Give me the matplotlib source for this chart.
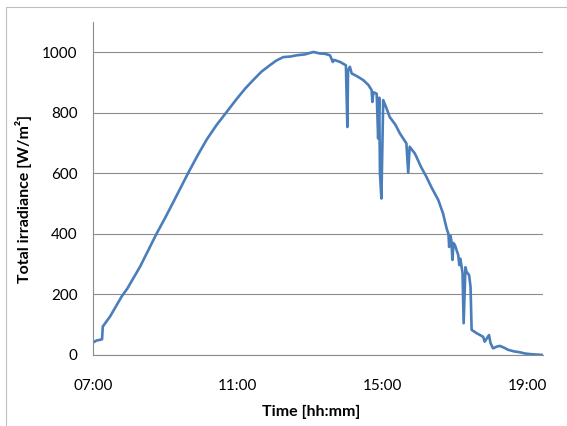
import numpy as np
import matplotlib.pyplot as plt
from matplotlib.patches import Rectangle

plt.rcParams['font.family'] = ['Lato', 'DejaVu Sans']

# Time in decimal hours, irradiance in W/m2
hours = [7.00, 7.10, 7.19, 7.25, 7.27, 7.47, 7.79, 7.95, 8.30, 8.76, 9.00,
         9.22, 9.63, 9.90, 10.14, 10.40, 10.69, 10.96, 11.20, 11.42, 11.65,
         11.88, 12.05, 12.25, 12.45, 12.62, 12.85, 13.08, 13.26, 13.40, 13.54,
         13.62, 13.65, 13.82, 13.98, 14.02, 14.04, 14.09, 14.14, 14.30, 14.46,
         14.60, 14.69, 14.71, 14.74, 14.83, 14.87, 14.90, 14.92, 14.96, 15.01,
         15.10, 15.19, 15.35, 15.47, 15.65, 15.70, 15.74, 15.88, 15.93, 16.05,
         16.20, 16.35, 16.53, 16.66, 16.76, 16.81, 16.83, 16.86, 16.89, 16.92,
         16.95, 16.99, 17.08, 17.11, 17.14, 17.20, 17.23, 17.28, 17.31, 17.38,
         17.42, 17.45, 17.59, 17.68, 17.77, 17.81, 17.93, 17.97, 18.04, 18.15,
         18.23, 18.35, 18.46, 18.62, 18.78, 18.92, 19.06, 19.42]
irradiance = [41, 48, 50, 52, 94, 127, 193, 220, 292, 402, 455,
              506, 602, 662, 712, 758, 803, 845, 880, 908, 936,
              957, 972, 984, 986, 990, 993, 1001, 996, 995, 990,
              968, 975, 968, 957, 753, 940, 952, 930, 920, 908,
              892, 875, 836, 868, 863, 715, 850, 600, 517, 842,
              815, 786, 760, 732, 699, 602, 688, 666, 654, 622,
              589, 552, 512, 468, 418, 400, 357, 395, 380, 314,
              370, 363, 330, 297, 318, 270, 105, 290, 275, 264,
              225, 83, 72, 66, 60, 44, 66, 40, 22, 28,
              30, 24, 17, 12, 9, 5, 3, 0]

y_ticks = [0, 200, 400, 600, 800, 1000]
x_ticks = [7, 11, 15, 19]
x_labels = ["07:00", "11:00", "15:00", "19:00"]

fig = plt.figure(figsize=(5.67, 4.26), dpi=100)
ax = fig.add_axes([93/567, 1 - 355/426, 450/567, 333/426])

# outer chart border (extends past right/bottom edge like the reference)
fig.patches.append(Rectangle((6/567, -0.05), 1.1, 1 - 7/426 + 0.05,
                             transform=fig.transFigure, fill=False,
                             edgecolor="#bfbfbf", linewidth=0.8))

ax.plot(hours, irradiance, color="#4a7ebb", linewidth=1.9)

ax.set_xlim(7, 19.42)
ax.set_ylim(0, 1100)
ax.set_yticks(y_ticks)
ax.set_xticks(x_ticks)
ax.set_xticklabels(x_labels)
ax.grid(axis="y", color="#8c8c8c", linewidth=0.8)
ax.set_axisbelow(True)

for side in ["top", "right"]:
    ax.spines[side].set_visible(False)
for side in ["left", "bottom"]:
    ax.spines[side].set_color("#8c8c8c")
    ax.spines[side].set_linewidth(0.8)

ax.tick_params(axis="both", length=0, labelsize=11, colors="black")
ax.tick_params(axis="x", pad=17)
ax.tick_params(axis="y", pad=11)

ax.set_xlabel("Time [hh:mm]", fontsize=11.5, fontweight="bold")
ax.set_ylabel("Total irradiance [W/m²]", fontsize=11.5, fontweight="bold")
ax.xaxis.set_label_coords(0.485, -0.15)
ax.yaxis.set_label_coords(-0.135, 0.47)

fig.savefig("out.png", dpi=100)
